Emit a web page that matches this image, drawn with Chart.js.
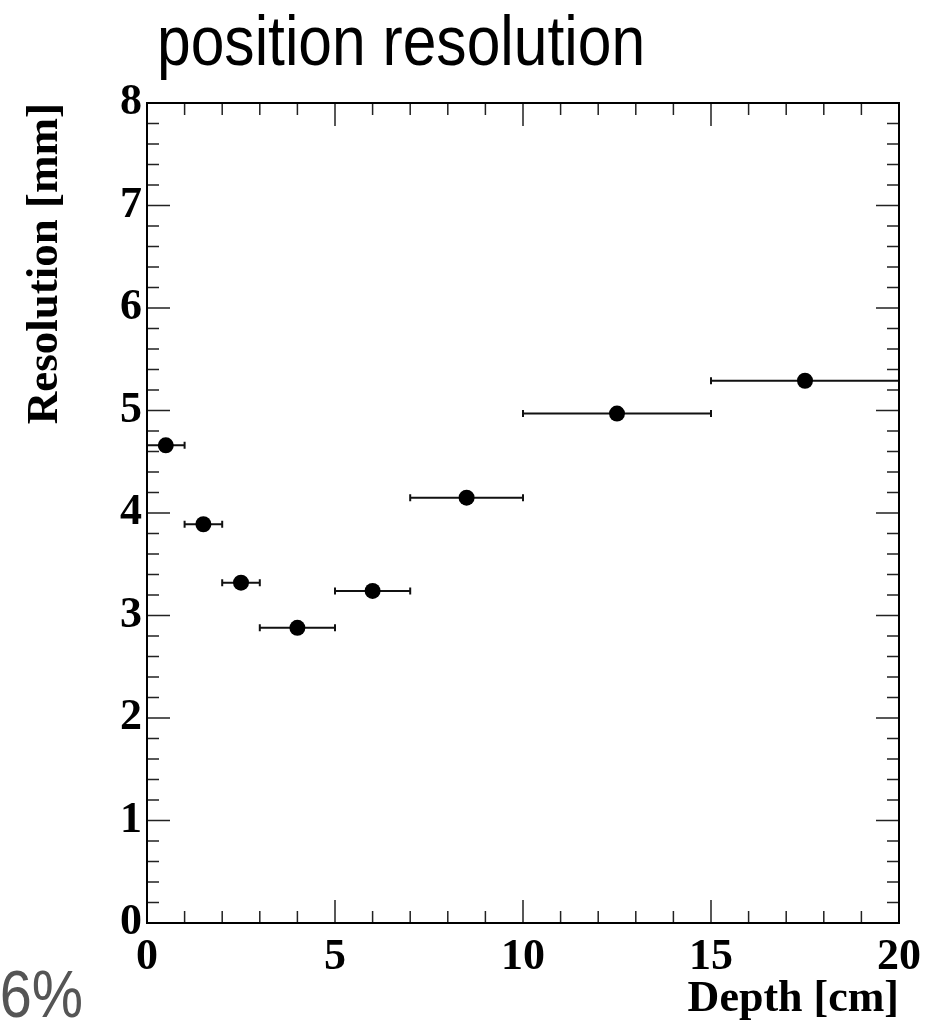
<!DOCTYPE html>
<html>
<head>
<meta charset="utf-8">
<script src="https://cdn.jsdelivr.net/npm/chart.js@4"></script>
<style>
  html, body { margin: 0; padding: 0; background: #ffffff; }
  canvas { display: block; }
</style>
</head>
<body>
<canvas id="c" width="943" height="1027"></canvas>
<script>
// ---- data ----
const depth      = [0.5, 1.5, 2.5, 4.0, 6.0, 8.5, 12.5, 17.5];
const depthLow   = [0,   1,   2,   3,   5,   7,   10,   15];
const depthHigh  = [1,   2,   3,   5,   7,   10,  15,   20];
const resolution = [4.66, 3.89, 3.32, 2.88, 3.24, 4.15, 4.97, 5.29];

const xTickValues = [0, 5, 10, 15, 20];
const yTickValues = [0, 1, 2, 3, 4, 5, 6, 7, 8];

const chartTitle = 'position resolution';
const xTitle = 'Depth [cm]';
const yTitle = 'Resolution [mm]';
const cornerText = '6%';

const points = depth.map((d, i) => ({ x: d, y: resolution[i], xMin: depthLow[i], xMax: depthHigh[i] }));

const serifBold = (size) => ({ family: "'Liberation Serif', 'Times New Roman', serif", weight: 'bold', size: size, lineHeight: 1.2 });

// error bars (horizontal), drawn under the markers
const errorBars = {
  id: 'errorBars',
  beforeDatasetsDraw(chart) {
    const { ctx, scales: { x, y } } = chart;
    ctx.save();
    ctx.strokeStyle = '#111';
    ctx.lineWidth = 2;
    chart.data.datasets[0].data.forEach(p => {
      const x0 = x.getPixelForValue(p.xMin);
      const x1 = x.getPixelForValue(p.xMax);
      const yy = y.getPixelForValue(p.y);
      ctx.beginPath();
      ctx.moveTo(x0, yy); ctx.lineTo(x1, yy);
      ctx.moveTo(x0, yy - 3.5); ctx.lineTo(x0, yy + 3.5);
      ctx.moveTo(x1, yy - 3.5); ctx.lineTo(x1, yy + 3.5);
      ctx.stroke();
    });
    ctx.restore();
  }
};

// ROOT-style frame with inward ticks on all four sides
const frameTicks = {
  id: 'frameTicks',
  afterDraw(chart) {
    const { ctx, chartArea: a, scales: { x, y } } = chart;
    ctx.save();
    ctx.strokeStyle = '#222';
    ctx.lineWidth = 1.5;
    ctx.beginPath();
    // x ticks: major every 5, minor every 1
    for (let v = x.min; v <= x.max + 1e-9; v += 1) {
      const px = x.getPixelForValue(v);
      const len = (Math.abs(v % 5) < 1e-9) ? 23 : 12;
      ctx.moveTo(px, a.bottom); ctx.lineTo(px, a.bottom - len);
      ctx.moveTo(px, a.top);    ctx.lineTo(px, a.top + len);
    }
    // y ticks: major every 1, minor every 0.2
    for (let k = 0; k <= Math.round((y.max - y.min) * 5); k++) {
      const v = y.min + k * 0.2;
      const py = y.getPixelForValue(v);
      const len = (k % 5 === 0) ? 23 : 12;
      ctx.moveTo(a.left, py);  ctx.lineTo(a.left + len, py);
      ctx.moveTo(a.right, py); ctx.lineTo(a.right - len, py);
    }
    ctx.stroke();
    ctx.strokeStyle = '#000';
    ctx.lineWidth = 2;
    ctx.strokeRect(a.left, a.top, a.right - a.left, a.bottom - a.top);
    ctx.restore();
  }
};

// slide texts (condensed Helvetica-like)
const slideText = {
  id: 'slideText',
  afterDraw(chart) {
    const { ctx } = chart;
    ctx.save();
    ctx.fillStyle = '#000';
    ctx.font = "70px 'Liberation Sans', Arial, Helvetica, sans-serif";
    ctx.textBaseline = 'alphabetic';
    ctx.textAlign = 'left';
    ctx.translate(157, 65);
    ctx.scale(0.865, 1);
    ctx.fillText(chartTitle, 0, 0);
    ctx.restore();

    ctx.save();
    ctx.fillStyle = '#555';
    ctx.font = "67px 'Liberation Sans', Arial, Helvetica, sans-serif";
    ctx.textBaseline = 'alphabetic';
    ctx.textAlign = 'right';
    ctx.translate(83, 1017);
    ctx.scale(0.86, 1);
    ctx.fillText(cornerText, 0, 0);
    ctx.restore();
  }
};

new Chart(document.getElementById('c'), {
  type: 'scatter',
  data: {
    datasets: [{
      label: yTitle,
      data: points,
      backgroundColor: '#000',
      borderColor: '#000',
      borderWidth: 0,
      pointRadius: 8,
      pointHoverRadius: 8
    }]
  },
  options: {
    responsive: false,
    animation: false,
    events: [],
    layout: { padding: { left: 0, right: 44, top: 103, bottom: 0 } },
    plugins: {
      legend: { display: false },
      title: { display: false },
      tooltip: { enabled: false }
    },
    scales: {
      x: {
        type: 'linear',
        min: 0, max: 20,
        afterBuildTicks: (s) => { s.ticks = xTickValues.map(v => ({ value: v })); },
        afterFit: (s) => { s.height = 104; },
        grid: { display: true, drawOnChartArea: false, drawTicks: false },
        border: { display: false },
        ticks: { color: '#000', font: serifBold(44), padding: 8, maxRotation: 0, autoSkip: false },
        title: { display: true, text: xTitle, align: 'end', color: '#000', font: serifBold(44), padding: { top: 0, bottom: 1 } }
      },
      y: {
        type: 'linear',
        min: 0, max: 8,
        afterBuildTicks: (s) => { s.ticks = yTickValues.map(v => ({ value: v })); },
        afterFit: (s) => { s.width = 147; },
        grid: { display: true, drawOnChartArea: false, drawTicks: false },
        border: { display: false },
        ticks: { color: '#000', font: serifBold(44), padding: 5, autoSkip: false },
        title: { display: true, text: yTitle, align: 'end', color: '#000', font: serifBold(45), padding: { top: 18, bottom: 0 } }
      }
    }
  },
  plugins: [errorBars, frameTicks, slideText]
});
</script>
</body>
</html>
